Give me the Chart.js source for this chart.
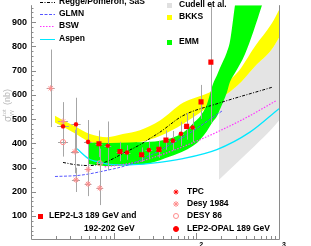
<!DOCTYPE html>
<html>
<head>
<meta charset="utf-8">
<script src="https://cdn.jsdelivr.net/npm/chart.js@4/dist/chart.umd.min.js"></script>
<style>
  html, body { margin: 0; padding: 0; background: #fff; overflow: hidden; }
  #caja { width: 311px; height: 246px; }
</style>
</head>
<body>
<div id="caja"><canvas id="grafico"></canvas></div>
<script>
"use strict";
/* seccion eficaz gamma-gamma total - datos leidos a ojo del grafico */
/* eje x: W en GeV (log), eje y: sigma en nb */

var marcasY = [100, 200, 300, 400, 500, 600, 700, 800, 900];
var decadasEtiq = [100, 1000];
var exponentesEtiq = ["2", "3"];

// datos experimentales
var tpcW = [2.44, 3.5, 4.9, 8.5];
var tpcS = [470, 478, 406, 390];
var tpcErr = [60, 110, 90, 100];
var tpcErrX = [1.18, 1.14, 1.12, 1.1];

var desy84W = [1.73, 2.44, 3.4, 4.9, 3.5, 4.9, 6.8];
var desy84S = [627, 490, 366, 292, 249, 232, 215];
var desy84Err = [160, 80, 90, 70, 50, 50, 70];
var desy84ErrX = [1.12, 1.15, 1.12, 1.1, 1.12, 1.1, 1.1];

var desy86W = [2.44, 6.8];
var desy86S = [405, 318];
var desy86Err = [60, 60];
var desy86ErrX = [1.15, 1.1];

var l3W = [6.64, 11.9, 21.8, 35.3, 42.9, 76.3, 114, 150];
var l3S = [398, 366, 353, 375, 413, 470, 571, 735];
var l3Err = [55, 40, 30, 35, 40, 55, 70, 250];
var l3ErrX = [1.1, 1.1, 1.08, 1.08, 1.08, 1.08, 1.06, 1.06];

var opalW = [14.5, 26.7, 52.1, 65.2, 90.2];
var opalS = [362, 372, 411, 439, 465];
var opalErr = [30, 35, 40, 50, 60];
var opalErrX = [1.1, 1.1, 1.08, 1.08, 1.08];

// curvas teoricas
var reggeW = [2.44, 3.4, 5.17, 8.3, 12.9, 20.8, 27.5, 36.3, 68.9, 177, 820];
var reggeS = [321, 312, 308, 325, 358, 394, 420, 446, 514, 563, 631];

var glmnW = [1.95, 3.9, 7.4, 15.7, 27.5, 72.8, 204];
var glmnS = [263, 268, 285, 313, 350, 430, 533];

var bswW = [7.8, 11.0, 20.8, 27.5, 68.9, 177, 445, 917];
var bswS = [303, 309, 325, 337, 386, 446, 514, 575];

var aspenW = [3.6, 5.17, 6.28, 9.0, 15.7, 27.5, 68.9, 177, 445, 1000];
var aspenS = [377, 333, 325, 313, 311, 317, 337, 374, 446, 543];

// bandas
var bkksW = [1.95, 3.22, 5.17, 8.3, 12.9, 20.8, 36.3, 68.9, 154, 310, 511, 820, 1000];
var bkksAlto = [514, 474, 438, 425, 438, 454, 494, 567, 615, 690, 800, 895, 950];
var bkksBajo = [486, 446, 406, 395, 395, 405, 430, 480, 560, 636, 717, 788, 836];

var emmW = [4.9, 9.0, 15.7, 27.5, 48, 72.8, 96, 111, 134, 159, 177, 193, 234, 255, 293, 387, 621, 892];
var emmAlto = [403, 401, 403, 406, 420, 450, 490, 511, 560, 645, 680, 711, 776, 820, 969, 1250, 1700, 2000];
var emmBajo = [315, 306, 310, 318, 345, 370, 395, 415, 450, 490, 511, 540, 610, 653, 690, 768, 969, 1150];

var cudellW = [188, 310, 511, 820, 1000];
var cudellAlto = [580, 636, 717, 788, 836];
var cudellBajo = [250, 320, 390, 460, 494];

var ROJO = "#ff0000";
var ROSA = "#ff8c8c";

function pares(xs, ys) {
  return xs.map(function (x, i) { return { x: x, y: ys[i] }; });
}

function marcador(datos, estilo, radio, fondo, borde, ancho, err, errX) {
  return {
    data: datos, showLine: false, order: 0,
    pointStyle: estilo, pointRadius: radio, pointBackgroundColor: fondo,
    pointBorderColor: borde, pointBorderWidth: ancho,
    errY: err, errX: errX
  };
}

function curva(datos, color, raya, ancho) {
  return {
    data: datos, order: 5, borderColor: color, borderWidth: ancho,
    borderDash: raya, pointRadius: 0, fill: false, cubicInterpolationMode: "monotone"
  };
}

function borde(datos, relleno, color) {
  return {
    data: datos, order: 10, borderWidth: 0, borderColor: "rgba(0,0,0,0)",
    pointRadius: 0, fill: relleno, backgroundColor: color, cubicInterpolationMode: "monotone"
  };
}

function dibujarBarras(chart) {
  var ctx = chart.ctx, a = chart.chartArea, sx = chart.scales.x, sy = chart.scales.y;
  ctx.save();
  ctx.beginPath();
  ctx.rect(a.left, a.top, a.right - a.left, a.bottom - a.top);
  ctx.clip();
  ctx.strokeStyle = "#a6a6a6";
  ctx.lineWidth = 1;
  chart.data.datasets.forEach(function (ds) {
    if (!ds.errY) { return; }
    ds.data.forEach(function (p, i) {
      var x = Math.round(sx.getPixelForValue(p.x)) + 0.5;
      var y = Math.round(sy.getPixelForValue(p.y)) + 0.5;
      ctx.beginPath();
      ctx.moveTo(x, sy.getPixelForValue(p.y + ds.errY[i]));
      ctx.lineTo(x, sy.getPixelForValue(p.y - ds.errY[i]));
      ctx.moveTo(sx.getPixelForValue(p.x / ds.errX[i]), y);
      ctx.lineTo(sx.getPixelForValue(p.x * ds.errX[i]), y);
      ctx.stroke();
    });
  });
  ctx.restore();
}

function dibujarEjes(chart) {
  var ctx = chart.ctx, a = chart.chartArea, sx = chart.scales.x, sy = chart.scales.y;
  ctx.save();
  ctx.strokeStyle = "#8a8a8a";
  ctx.lineWidth = 1;
  ctx.beginPath();
  ctx.moveTo(a.left + 0.5, a.top);
  ctx.lineTo(a.left + 0.5, a.bottom + 0.5);
  ctx.lineTo(a.right + 0.5, a.bottom + 0.5);
  ctx.lineTo(a.right + 0.5, a.top);
  // marcas y (cada 20 nb, largas cada 100)
  for (var v = 20; v < sy.max; v += 20) {
    var y = Math.round(sy.getPixelForValue(v)) + 0.5;
    ctx.moveTo(a.left, y);
    ctx.lineTo(a.left + (v % 100 === 0 ? 5 : 2.5), y);
  }
  // marcas x logaritmicas
  [1, 10, 100].forEach(function (d) {
    for (var k = 1; k <= 9; k++) {
      var x = Math.round(sx.getPixelForValue(d * k)) + 0.5;
      if (k === 1 && d === 1) { continue; }
      ctx.moveTo(x, a.bottom);
      ctx.lineTo(x, a.bottom - (k === 1 ? 6 : 3));
    }
  });
  ctx.stroke();

  ctx.fillStyle = "#000";
  ctx.font = "bold 9px 'Liberation Sans', Arial, sans-serif";
  ctx.textAlign = "right";
  ctx.textBaseline = "middle";
  marcasY.forEach(function (m) {
    ctx.fillText(String(m), a.left - 4, sy.getPixelForValue(m));
  });
  decadasEtiq.forEach(function (d, i) {
    var x = sx.getPixelForValue(d);
    ctx.textAlign = "right";
    ctx.textBaseline = "top";
    ctx.font = "bold 9px 'Liberation Sans', Arial, sans-serif";
    ctx.fillText("10", x + 2, a.bottom + 9);
    ctx.textAlign = "left";
    ctx.font = "bold 7px 'Liberation Sans', Arial, sans-serif";
    ctx.fillText(exponentesEtiq[i], x + 3, a.bottom + 3);
  });

  // titulo eje y
  ctx.save();
  ctx.translate(8, 122);
  ctx.rotate(-Math.PI / 2);
  ctx.fillStyle = "#b8b8b8";
  ctx.textAlign = "left";
  ctx.textBaseline = "middle";
  ctx.font = "10px 'Liberation Sans', Arial, sans-serif";
  ctx.fillText("\u03c3", 0, 0);
  ctx.font = "6px 'Liberation Sans', Arial, sans-serif";
  ctx.fillText("\u03b3\u03b3", 6, 3);
  ctx.fillText("tot", 6, -4);
  ctx.font = "9px 'Liberation Sans', Arial, sans-serif";
  ctx.fillText("(nb)", 17, 0);
  ctx.restore();
  ctx.restore();
}

function dibujarLeyendas(chart) {
  var ctx = chart.ctx;
  var H = Chart.helpers;
  ctx.save();
  ctx.font = "bold 8.5px 'Liberation Sans', Arial, sans-serif";
  ctx.textBaseline = "middle";
  ctx.textAlign = "left";

  var lineas = [
    { t: "Regge/Pomeron, SaS", c: "#000", d: [3, 1.5, 1, 1.5], y: 2 },
    { t: "GLMN", c: "#5555ff", d: [3, 1.5], y: 14 },
    { t: "BSW", c: "#ff33ff", d: [1.5, 1.5], y: 26 },
    { t: "Aspen", c: "#00e8ff", d: [], y: 39 }
  ];
  lineas.forEach(function (l) {
    ctx.strokeStyle = l.c;
    ctx.lineWidth = 1;
    ctx.setLineDash(l.d);
    ctx.beginPath();
    ctx.moveTo(40, l.y + 0.5);
    ctx.lineTo(55, l.y + 0.5);
    ctx.stroke();
    ctx.setLineDash([]);
    ctx.fillStyle = "#000";
    ctx.fillText(l.t, 59, l.y);
  });

  var cajas = [
    { t: "Cudell et al.", c: "#e0e0e0", y: 5 },
    { t: "BKKS", c: "#ffff00", y: 17 },
    { t: "EMM", c: "#00ff00", y: 42 }
  ];
  cajas.forEach(function (b) {
    ctx.fillStyle = b.c;
    ctx.fillRect(167, b.y - 2, 5, 5);
    ctx.fillStyle = "#000";
    ctx.fillText(b.t, 179, b.y);
  });

  ctx.fillStyle = ROJO;
  ctx.fillRect(38, 214, 5, 5);
  ctx.fillStyle = "#000";
  ctx.fillText("LEP2-L3 189 GeV and", 49, 216);
  ctx.fillText("192-202 GeV", 84, 229);

  var simbolos = [
    { t: "TPC", s: "star", r: 2.5, f: ROJO, b: ROJO, y: 192 },
    { t: "Desy 1984", s: "star", r: 3, f: ROSA, b: ROSA, y: 204 },
    { t: "DESY 86", s: "circle", r: 2.5, f: "rgba(0,0,0,0)", b: ROSA, y: 216 },
    { t: "LEP2-OPAL 189 GeV", s: "circle", r: 2.5, f: ROJO, b: ROJO, y: 229 }
  ];
  simbolos.forEach(function (m) {
    ctx.fillStyle = m.f;
    ctx.strokeStyle = m.b;
    ctx.lineWidth = 1;
    H.drawPoint(ctx, { pointStyle: m.s, radius: m.r, rotation: 0, borderWidth: 1 }, 176, m.y);
    ctx.fillStyle = "#000";
    ctx.fillText(m.t, 187, m.y);
  });
  ctx.restore();
}

var extras = {
  id: "extras",
  beforeDraw: function (chart) { chart.$barrasHechas = false; },
  beforeDatasetDraw: function (chart, args) {
    var ds = chart.data.datasets[args.index];
    if (ds.errY && !chart.$barrasHechas) {
      chart.$barrasHechas = true;
      dibujarBarras(chart);
    }
  },
  afterDraw: function (chart) {
    dibujarEjes(chart);
    dibujarLeyendas(chart);
  }
};

var conjuntos = [
  marcador(pares(l3W, l3S), "rect", 3.6, ROJO, ROJO, 0, l3Err, l3ErrX),
  marcador(pares(opalW, opalS), "circle", 2.3, ROJO, ROJO, 0, opalErr, opalErrX),
  marcador(pares(tpcW, tpcS), "star", 2.3, ROJO, ROJO, 1.2, tpcErr, tpcErrX),
  marcador(pares(desy86W, desy86S), "circle", 2.6, "rgba(0,0,0,0)", ROSA, 1, desy86Err, desy86ErrX),
  marcador(pares(desy84W, desy84S), "star", 3, ROSA, ROSA, 1, desy84Err, desy84ErrX),
  curva(pares(reggeW, reggeS), "#000000", [3, 1.5, 1, 1.5], 1),
  curva(pares(glmnW, glmnS), "#5555ff", [3, 1.5], 1),
  curva(pares(bswW, bswS), "#ff33ff", [1.5, 1.5], 1.2),
  curva(pares(aspenW, aspenS), "#00e8ff", [], 1.3),
  borde(pares(emmW, emmAlto), "+1", "#00ff00"),
  borde(pares(emmW, emmBajo), false, "#00ff00"),
  borde(pares(bkksW, bkksAlto), "+1", "#ffff00"),
  borde(pares(bkksW, bkksBajo), false, "#ffff00"),
  borde(pares(cudellW, cudellAlto), "+1", "#e4e4e4"),
  borde(pares(cudellW, cudellBajo), false, "#e4e4e4")
];
// las bandas se pintan en orden: gris, amarillo, verde
conjuntos[9].order = 8;
conjuntos[10].order = 8;
conjuntos[11].order = 9;
conjuntos[12].order = 9;

new Chart(document.getElementById("grafico").getContext("2d"), {
  type: "line",
  data: { datasets: conjuntos },
  options: {
    responsive: true,
    maintainAspectRatio: false,
    animation: false,
    layout: { padding: { left: 31, right: 32, top: 0, bottom: 7 } },
    scales: {
      x: { type: "logarithmic", min: 1, max: 1000, display: false },
      y: { type: "linear", min: 5, max: 970, display: false }
    },
    plugins: { legend: { display: false }, tooltip: { enabled: false } }
  },
  plugins: [extras]
});
</script>
</body>
</html>
